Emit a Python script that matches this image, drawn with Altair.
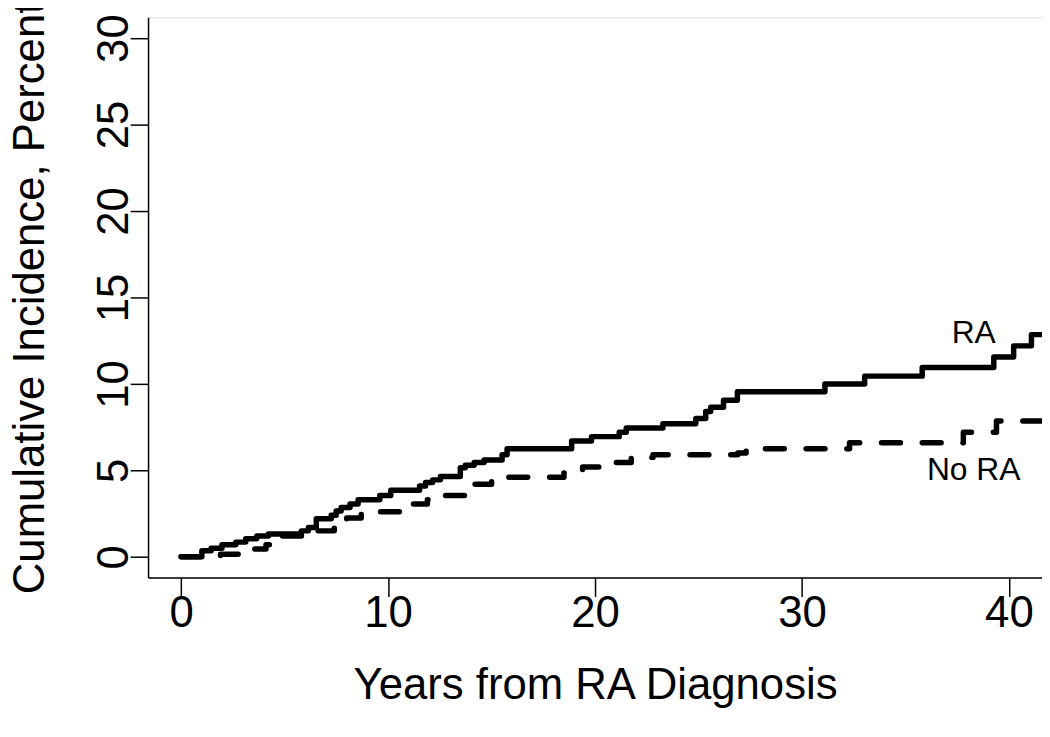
import altair as alt
import pandas as pd

# RA (solid) step curve: years from diagnosis, cumulative incidence (%)
ra_years = [0.0, 1.0, 1.45, 1.97, 2.64, 3.12, 3.65, 4.22, 5.81, 6.15, 6.53, 7.25, 7.49,
            7.73, 8.16, 8.55, 9.6, 10.13, 11.52, 11.81, 12.15, 12.53, 13.49, 13.73,
            14.16, 14.64, 15.51, 15.75, 18.87, 19.83, 21.17, 21.51, 23.28, 24.87,
            25.35, 25.59, 26.21, 26.88, 31.11, 33.03, 35.81, 39.27, 40.23, 41.09, 41.6]
ra_pct = [0.0, 0.35, 0.5, 0.7, 0.85, 1.05, 1.2, 1.32, 1.5, 1.7, 2.2, 2.4, 2.65,
          2.85, 3.05, 3.3, 3.55, 3.85, 4.1, 4.3, 4.45, 4.65, 5.15, 5.3,
          5.45, 5.6, 5.9, 6.25, 6.7, 6.95, 7.2, 7.45, 7.7, 8.0,
          8.4, 8.65, 9.05, 9.55, 10.0, 10.45, 10.95, 11.55, 12.2, 12.85, 12.85]

# No RA (dashed) step curve
nora_years = [0.0, 1.9, 3.2, 4.1, 4.7, 6.3, 7.4, 8.0, 8.7, 9.5, 11.2, 11.9, 12.7, 13.7,
              14.2, 15.0, 15.8, 18.5, 19.4, 20.3, 21.75, 22.8, 26.9, 27.3, 32.3,
              37.8, 39.4, 41.6]
nora_pct = [0.0, 0.15, 0.45, 0.7, 1.2, 1.5, 1.7, 2.25, 2.45, 2.6, 3.05, 3.3, 3.55, 3.9,
            4.2, 4.4, 4.6, 4.85, 5.2, 5.45, 5.75, 5.9, 6.0, 6.25, 6.6,
            7.2, 7.85, 7.85]

label_text = ["RA", "No RA"]
label_years = [38.3, 38.3]
label_pct = [12.95, 5.0]

x_ticks = [0, 10, 20, 30, 40]
y_ticks = [0, 5, 10, 15, 20, 25, 30]

ra_df = pd.DataFrame({"years": ra_years, "pct": ra_pct})
nora_df = pd.DataFrame({"years": nora_years, "pct": nora_pct})
lab_df = pd.DataFrame({"years": label_years, "pct": label_pct, "text": label_text})

FONT = "Liberation Sans"
W, H = 900, 564

x_enc = alt.X(
    "years:Q",
    scale=alt.Scale(domain=[-1.6, 41.6], nice=False, zero=False),
    axis=alt.Axis(
        values=x_ticks, title="Years from RA Diagnosis", grid=False,
        tickSize=19, tickWidth=1.5, tickColor="black",
        domainColor="black", domainWidth=1.5,
        labelFontSize=44, labelFont=FONT, labelColor="black",
        labelBaseline="alphabetic", labelPadding=30,
        labelFlush=False, labelOverlap=False,
        titleFontSize=44, titleFont=FONT, titleFontWeight="normal", titleColor="black",
        titleX=W / 2, titleY=122, titleAlign="center", titleBaseline="alphabetic",
    ),
)
y_enc = alt.Y(
    "pct:Q",
    scale=alt.Scale(domain=[-1.2, 31.2], nice=False, zero=False),
    axis=alt.Axis(
        values=y_ticks, title="Cumulative Incidence, Percent", grid=False,
        tickSize=18, tickWidth=1.5, tickColor="black",
        domainColor="black", domainWidth=1.5,
        labelFontSize=44, labelFont=FONT, labelColor="black",
        labelAngle=270, labelAlign="center", labelBaseline="alphabetic",
        labelPadding=3, labelFlush=False, labelOverlap=False,
        titleFontSize=44, titleFont=FONT, titleFontWeight="normal", titleColor="black",
        titleAngle=270, titleX=-105, titleY=H / 2, titleAlign="center",
        titleBaseline="alphabetic",
    ),
)

ra_line = alt.Chart(ra_df).mark_line(
    interpolate="step-after", color="black", strokeWidth=5.5,
    strokeCap="round", strokeJoin="round", clip=True
).encode(x=x_enc, y=y_enc)

nora_line = alt.Chart(nora_df).mark_line(
    interpolate="step-after", color="black", strokeWidth=5.5,
    strokeDash=[19, 22], strokeCap="round", strokeJoin="round", clip=True
).encode(x=x_enc, y=y_enc)

labels = alt.Chart(lab_df).mark_text(
    font=FONT, fontSize=32, color="black", align="center", baseline="middle"
).encode(x=x_enc, y=y_enc, text="text:N")

chart = alt.layer(ra_line, nora_line, labels).properties(
    width=W, height=H,
    autosize=alt.AutoSizeParams(type="none"),
    padding={"left": 141, "top": 7, "right": 0, "bottom": 142},
).configure_view(stroke=None).configure(background="white")

chart.save("out.html", embed_options={"renderer": "svg", "actions": False})
